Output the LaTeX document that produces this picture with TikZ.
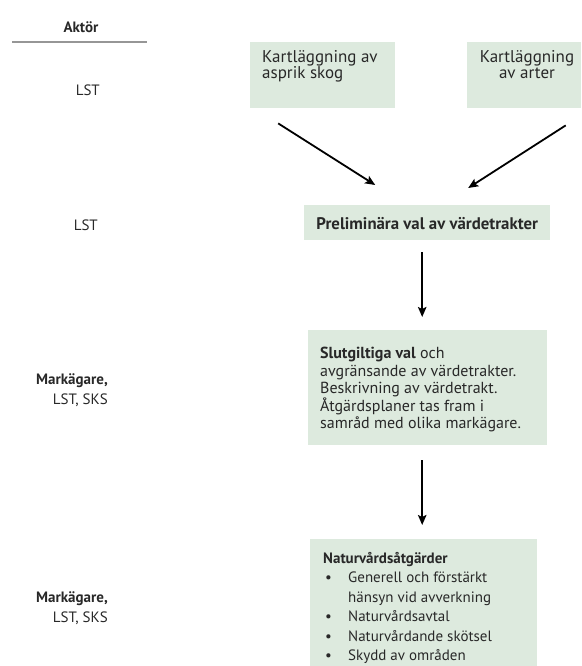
\documentclass[tikz,border=0pt]{standalone}
\usepackage{fontspec}
\setmainfont{PT Sans}
\usetikzlibrary{arrows.meta,calc}
\definecolor{boxgreen}{RGB}{221,234,222}
\definecolor{txtgray}{RGB}{40,40,40}
\definecolor{rulegray}{RGB}{150,150,150}
\begin{document}
\begin{tikzpicture}[x=1pt,y=-1pt,
  box/.style={fill=boxgreen, draw=none, inner sep=0pt, anchor=north west},
  txt/.style={text=txtgray, inner sep=0pt, font=\fontsize{17}{16.5}\selectfont},
  lbl/.style={text=txtgray, inner sep=0pt, font=\fontsize{15}{20}\selectfont},
  arr/.style={line width=1.8pt, draw=black, -{Stealth[length=10pt,width=8.5pt,inset=2pt]}}]
\useasboundingbox (0,0) rectangle (581,666);

% left column
\node[lbl, font=\bfseries\fontsize{15}{16}\selectfont] (akt) at (81,27) {Aktör};
\draw[rulegray, line width=1.2pt] (12,42) -- (147,42);
\node[lbl, anchor=east] (l1) at (100,90) {LST};
\node[lbl, anchor=east] (l2) at (98,225) {LST};
\node[lbl, anchor=east, align=right] (l3) at (108,390) {\textbf{Markägare,}\\LST, SKS};
\node[lbl, anchor=east, align=right] (l4) at (108,608) {\textbf{Markägare,}\\LST, SKS};

% boxes
\node[box, minimum width=145pt, minimum height=66pt] (b1) at (250,42) {};
\node[box, minimum width=114pt, minimum height=66pt] (b2) at (467,42) {};
\node[box, minimum width=246pt, minimum height=35pt] (b3) at (304,205) {};
\node[box, minimum width=239pt, minimum height=115pt] (b4) at (308,330) {};
\node[box, minimum width=227pt, minimum height=127pt] (b5) at (310,539) {};

% texts
\node[txt, anchor=north west, align=left] (t1) at (262,50) {Kartläggning av\\asprik skog};
\node[txt, anchor=north, align=center] (t2) at (527,50) {Kartläggning\\av arter};
\node[txt, font=\bfseries\fontsize{16.8}{16.5}\selectfont] (t3) at ([yshift=-0.5pt]b3.center) {Preliminära val av värdetrakter};
\node[txt, anchor=north west, align=left, font=\fontsize{16}{17.5}\selectfont] (t4) at (320,347)
  {\textbf{Slutgiltiga val} och\\avgränsande av värdetrakter.\\Beskrivning av värdetrakt.\\Åtgärdsplaner tas fram i\\samråd med olika markägare.};
\node[txt, anchor=north west, align=left, font=\fontsize{15}{19.5}\selectfont] (t5) at (323,552)
  {\textbf{Naturvårdsåtgärder}\\
   \makebox[25pt][l]{\hspace*{2pt}•}Generell och förstärkt\\
   \hspace*{25pt}hänsyn vid avverkning\\
   \makebox[25pt][l]{\hspace*{2pt}•}Naturvårdsavtal\\
   \makebox[25pt][l]{\hspace*{2pt}•}Naturvårdande skötsel\\
   \makebox[25pt][l]{\hspace*{2pt}•}Skydd av områden};

% arrows
\draw[arr] ([xshift=-44.5pt,yshift=-15pt]b1.south) -- ([xshift=-52pt,yshift=20pt]b3.north);
\draw[arr] ([xshift=41.5pt,yshift=-17pt]b2.south) -- ([xshift=41pt,yshift=17pt]b3.north);
\draw[arr] ([xshift=-5pt,yshift=-12pt]b3.south) -- ([xshift=-5.5pt,yshift=13pt]b4.north);
\draw[arr] ([xshift=-5.5pt,yshift=-15pt]b4.south) -- ([xshift=-1.5pt,yshift=14pt]b5.north);
\end{tikzpicture}
\end{document}
